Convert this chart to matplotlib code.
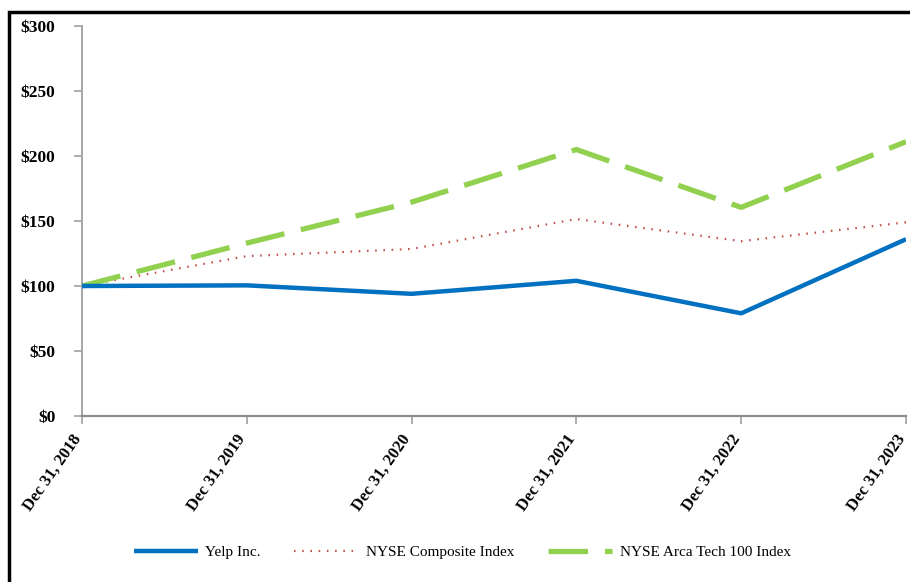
import matplotlib.pyplot as plt
import matplotlib.transforms as mtransforms
from matplotlib.patches import Rectangle

dates = ["Dec 31, 2018", "Dec 31, 2019", "Dec 31, 2020",
         "Dec 31, 2021", "Dec 31, 2022", "Dec 31, 2023"]
yelp = [100, 100.5, 94, 104, 79, 136]
nyse_comp = [100, 123, 128.5, 151.5, 134.5, 149]
arca_tech = [100, 133, 164.5, 205, 160.5, 211]
yticks = [0, 50, 100, 150, 200, 250, 300]

plt.rcParams['font.family'] = ['Liberation Serif', 'DejaVu Serif']

fig = plt.figure(figsize=(9.1, 5.82), dpi=100)
ax = fig.add_axes([0.0901, 0.2852, 0.9055, 0.6701])

x = list(range(len(dates)))
ax.plot(x, yelp, color="#0070C0", lw=3.2, solid_capstyle="butt", label="Yelp Inc.", zorder=3)
ax.plot(x, nyse_comp, color="#C0504D", lw=1.6, linestyle=(0, (0.7, 3.0)), label="NYSE Composite Index", zorder=2)
ax.plot(x, arca_tech, color="#92D050", lw=3.8, linestyle=(0, (7.5, 3.2)), dash_capstyle="butt",
        label="NYSE Arca Tech 100 Index", zorder=2)

ax.set_xlim(0, 5)
ax.set_ylim(0, 300)
ax.set_xticks(x)
ax.set_xticklabels([])
# slanted date labels, nudged a little left so the last one stays inside
shift = mtransforms.ScaledTranslation(-4 / 100, -20 / 100, fig.dpi_scale_trans)
for xi, d in zip(x, dates):
    ax.text(xi, 0, d, transform=ax.get_xaxis_transform() + shift, rotation=55,
            ha="right", va="center", rotation_mode="anchor", fontsize=12, fontweight="bold")
ax.set_yticks(yticks)
ax.set_yticklabels(["$" + str(v) for v in yticks], fontsize=12.5, fontweight="bold")
ax.tick_params(axis="both", direction="out", length=6, width=1.2, color="#a0a0a0")
ax.tick_params(axis="y", pad=13)

for s in ["top", "right"]:
    ax.spines[s].set_visible(False)
ax.spines["left"].set_color("#a6a6a6")
ax.spines["left"].set_linewidth(1.4)
ax.spines["bottom"].set_color("#8c8c8c")
ax.spines["bottom"].set_linewidth(1.6)

leg = fig.legend(loc="center", bbox_to_anchor=(0.508, 1 - 552 / 582), ncol=3, frameon=False,
                 fontsize=11, handlelength=4.2, columnspacing=2.2, handletextpad=0.5)

fig.patches.append(Rectangle((9 / 910, -0.1), 1.2, 1 - 12 / 582 + 0.1, transform=fig.transFigure,
                             fill=False, edgecolor="black", linewidth=2.5, zorder=10))

fig.savefig("out.png", dpi=100)
